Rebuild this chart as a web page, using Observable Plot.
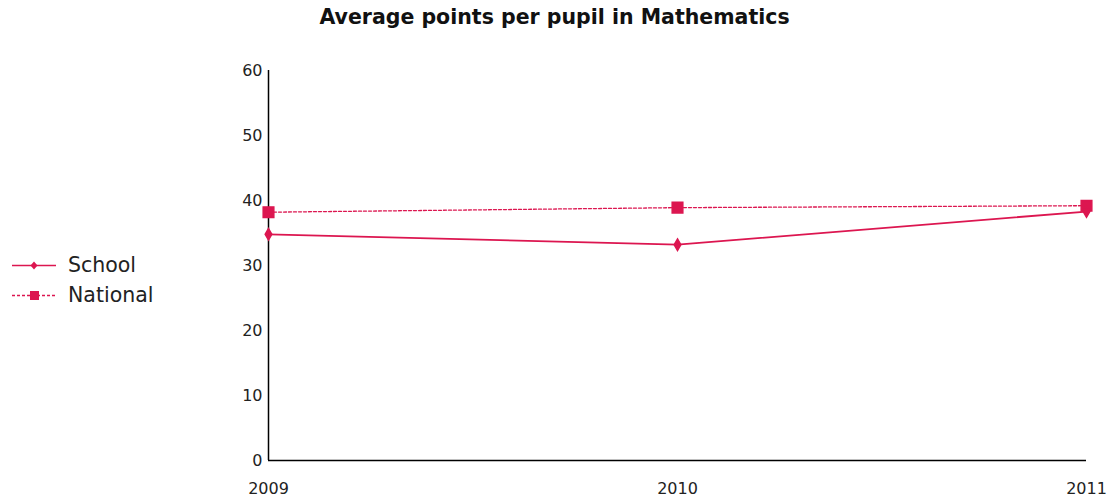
<!DOCTYPE html>
<html><head><meta charset="utf-8">
<script src="https://cdn.jsdelivr.net/npm/d3@7"></script>
<script src="https://cdn.jsdelivr.net/npm/@observablehq/plot@0.6"></script>
<style>
body{margin:0;background:#fff;font-family:"DejaVu Sans",Verdana,sans-serif;}
#wrap{position:relative;width:1109px;height:503px;}
#title{position:absolute;left:0;width:1109px;top:5px;text-align:center;font-weight:bold;font-size:20.5px;color:#111;}
#legend{position:absolute;left:12px;top:250px;font-size:20.5px;color:#222;}
.li{display:flex;align-items:center;height:30px;}
.li svg{margin-right:12px;}
</style></head>
<body><div id="wrap"><div id="chart"></div>
<div id="title">Average points per pupil in Mathematics</div>
<div id="legend"></div></div>
<script>
const years = [2009, 2010, 2011];
const school = [34.8, 33.2, 38.3];
const national = [38.2, 38.9, 39.2];
const yTicks = [0, 10, 20, 30, 40, 50, 60];
const color = "#dc1650";

const sData = years.map((y, i) => ({year: y, value: school[i]}));
const nData = years.map((y, i) => ({year: y, value: national[i]}));

const chart = Plot.plot({
  width: 1109, height: 503,
  marginLeft: 268, marginRight: 23, marginTop: 70, marginBottom: 43,
  style: {fontFamily: "DejaVu Sans, Verdana, sans-serif", fontSize: "16px", color: "#222", background: "#fff"},
  x: {domain: [2009, 2011], ticks: years, tickFormat: d => String(d)},
  y: {domain: [0, 60], ticks: yTicks},
  marks: [
    Plot.axisY({ticks: yTicks, tickSize: 0, tickPadding: 6, label: null, fontSize: 16}),
    Plot.axisX({ticks: years, tickSize: 0, tickPadding: 22, label: null, tickFormat: d => String(d), fontSize: 16}),
    Plot.ruleX([2009], {stroke: "#000", strokeWidth: 1.5}),
    Plot.ruleY([0], {stroke: "#000", strokeWidth: 1.5}),
    Plot.line(nData, {x: "year", y: "value", stroke: color, strokeWidth: 1.3, strokeDasharray: "3,2"}),
    Plot.line(sData, {x: "year", y: "value", stroke: color, strokeWidth: 1.8}),
    Plot.dot(nData, {x: "year", y: "value", symbol: "square", r: 6, fill: color, stroke: color}),
    Plot.dot(sData, {x: "year", y: "value", symbol: "diamond", r: 3.5, fill: color, stroke: color})
  ]
});
document.getElementById("chart").appendChild(chart);

const legendItems = [
  {name: "School", dash: null, sym: "diamond"},
  {name: "National", dash: "3,2", sym: "square"}
];
const lg = document.getElementById("legend");
legendItems.forEach(it => {
  const div = document.createElement("div");
  div.className = "li";
  const mk = it.sym === "square"
    ? `<rect x="18" y="6" width="9" height="9" fill="${color}"/>`
    : `<path d="M22,6.5 L25.5,10.5 L22,14.5 L18.5,10.5 Z" fill="${color}"/>`;
  div.innerHTML = `<svg width="44" height="21"><line x1="0" x2="44" y1="10.5" y2="10.5" stroke="${color}" stroke-width="1.5" ${it.dash ? `stroke-dasharray="${it.dash}"` : ""}/>${mk}</svg><span>${it.name}</span>`;
  lg.appendChild(div);
});
</script></body></html>
